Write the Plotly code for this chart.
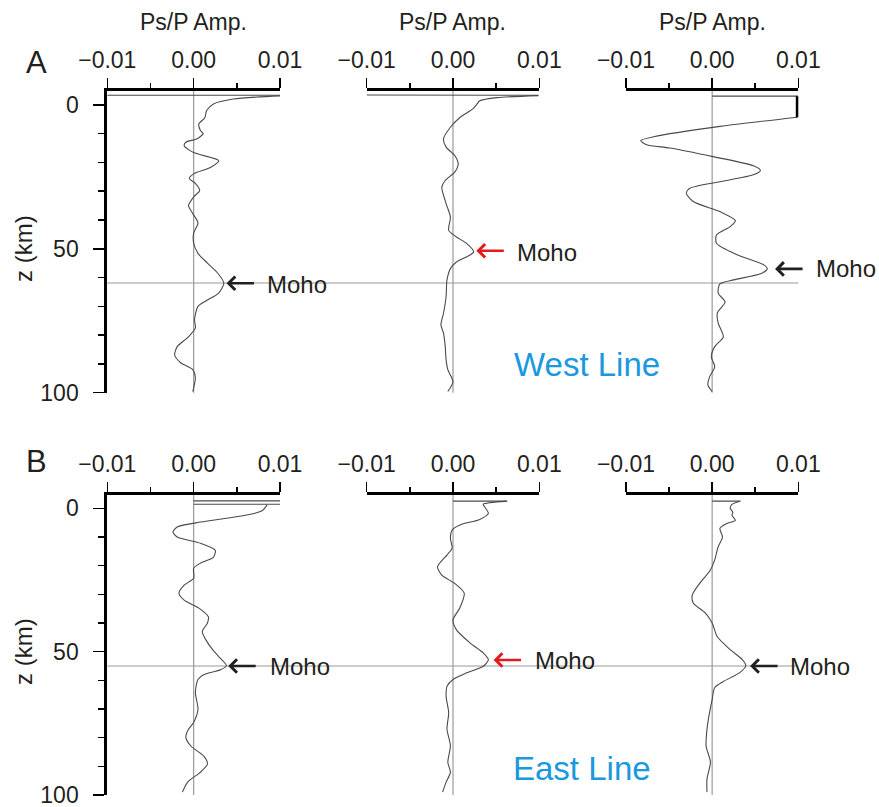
import plotly.graph_objects as go

W, H = 879, 807

# ---------------- data ----------------
# Row A (West Line), columns 1..3 ; Row B (East Line), columns 1..3
surf_amp_A1 = [-0.01, 0.01]
surf_dep_A1 = [-3.3, -3.3]
amp_A1 = [0.01, 0.0046, 0.0023, 0.0015, 0.0013, 0.0006, 0.0008, 0.0011, 0.0004, -0.0009, -0.0011, 0.0,
          0.0029, 0.0020, 0.0, -0.0005, 0.0002, 0.0007, 0.0, -0.0006, -0.0001, 0.0005, 0.0, 0.0,
          0.0005, 0.0016, 0.0028, 0.0035, 0.0029, 0.0016, 0.0005, 0.0001, 0.0002, -0.0006, -0.0019,
          -0.0022, -0.0015, -0.0001, 0.0002, -0.0001]
dep_A1 = [-3.1, -2.0, -0.3, 2.0, 4.5, 6.6, 9.0, 10.0, 11.8, 13.0, 14.2, 16.6,
          19.4, 21.7, 24.0, 25.6, 27.3, 29.8, 32.0, 35.0, 37.8, 41.0, 44.6, 48.0,
          51.6, 55.0, 58.5, 62.0, 65.4, 67.8, 70.0, 74.7, 77.5, 80.6, 84.0,
          86.9, 89.6, 92.0, 94.8, 99.6]

surf_amp_A2 = [-0.01, 0.0099]
surf_dep_A2 = [-3.4, -3.3]
amp_A2 = [0.0099, 0.0051, 0.0031, 0.0028, 0.0023, 0.0008, -0.0003, -0.0011, -0.0008, 0.0002, 0.0006,
          0.0002, -0.0009, -0.0013, -0.0008, -0.0003, -0.0005, 0.0004, 0.0016, 0.0024, 0.0016, 0.0004,
          -0.0003, -0.0007, -0.0008, -0.0011, -0.0014, -0.0011, -0.0009, -0.0008, -0.0006, 0.0, -0.0006]
dep_A2 = [-3.2, -2.5, -1.4, -0.3, 1.4, 4.4, 7.8, 11.8, 14.7, 17.6, 20.5,
          23.4, 26.3, 28.6, 34.3, 39.0, 43.6, 45.9, 48.2, 51.1, 52.8, 54.6,
          56.9, 60.9, 66.6, 72.4, 76.4, 79.3, 84.0, 88.6, 92.0, 96.2, 99.6]

surf_amp_A3 = [0.0, 0.01]
surf_dep_A3 = [-3.0, -3.0]
clip_amp_A3 = [0.01, 0.01]          # clipped (saturated) part of the trace
clip_dep_A3 = [-3.0, 4.3]
amp_A3 = [0.0099, 0.0009, -0.0068, -0.0083, -0.0076, -0.0049, 0.0001, 0.0048, 0.0056, 0.0048, 0.0009,
          -0.0026, -0.0030, -0.0022, 0.0009, 0.0027, 0.0021, 0.0005, 0.0005, 0.0029, 0.0060, 0.0064,
          0.0056, 0.0025, 0.0009, 0.0007, 0.0015, 0.0006, 0.0007, 0.0013, 0.0003, -0.0001, 0.0003,
          -0.0003, -0.0005, 0.0]
dep_A3 = [4.3, 7.5, 11.1, 12.4, 13.9, 15.0, 18.0, 21.2, 22.8, 24.3, 26.7,
          29.0, 30.7, 33.6, 37.1, 40.2, 42.3, 45.2, 48.1, 52.1, 55.6, 57.0,
          58.7, 60.8, 62.2, 65.4, 68.5, 72.3, 75.8, 80.6, 84.0, 87.5, 91.0,
          94.5, 97.3, 99.6]

surf_amp_B1 = [0.0, 0.01, None, 0.0, 0.01]
surf_dep_B1 = [-2.6, -2.6, None, -1.4, -1.4]
amp_B1 = [0.0085, 0.0080, 0.0070, 0.0046, 0.0008, -0.0019, -0.0024, -0.0019, 0.0008, 0.0025, 0.0023,
          0.0008, 0.0, 0.0, -0.0011, -0.0017, -0.0011, 0.0006, 0.0017, 0.0016, 0.0010, 0.0014, 0.0022,
          0.0029, 0.0038, 0.0031, 0.0012, 0.0005, 0.0002, 0.0005, 0.0, -0.0006, -0.0009, -0.0003,
          0.0012, 0.0016, 0.0008, -0.0007, -0.0013]
dep_B1 = [-1.2, 0.7, 1.8, 3.1, 4.8, 6.5, 8.3, 10.0, 12.2, 14.6, 17.0,
          19.1, 20.9, 24.4, 26.8, 29.6, 32.0, 34.8, 37.8, 40.0, 43.0, 45.8, 49.3,
          51.7, 54.9, 56.3, 58.0, 59.7, 64.2, 70.1, 74.7, 77.1, 79.9, 83.0,
          86.5, 89.2, 92.0, 95.5, 99.0]

surf_amp_B2 = [0.0, 0.0063]
surf_dep_B2 = [-2.5, -2.5]
amp_B2 = [0.0062, 0.0035, 0.0037, 0.0041, 0.0031, 0.0008, -0.0001, -0.0003, -0.0001, -0.0007, -0.0018,
          -0.0013, 0.0002, 0.0013, 0.0008, 0.0, 0.0004, 0.0020, 0.0035, 0.0041, 0.0035, 0.0016, 0.0,
          -0.0007, -0.0008, -0.0005, -0.0007, -0.0003, -0.0006, -0.0003, -0.0008, -0.0012]
dep_B2 = [-2.5, -1.4, -0.4, 1.8, 3.9, 5.8, 7.6, 10.5, 13.9, 16.3, 20.4,
          23.3, 26.2, 29.6, 34.7, 38.9, 42.4, 47.0, 50.4, 52.8, 55.1, 57.4, 59.7,
          62.1, 65.6, 71.3, 77.0, 82.8, 88.6, 92.1, 95.5, 99.0]

surf_amp_B3 = [0.0, 0.0033]
surf_dep_B3 = [-2.5, -2.5]
amp_B3 = [0.0032, 0.0023, 0.0021, 0.0024, 0.0023, 0.0027, 0.0017, 0.0009, 0.0012, 0.0007, 0.0003,
          -0.0002, -0.0014, -0.0023, -0.0022, -0.0008, 0.0, 0.0006, 0.0021, 0.0035, 0.0039, 0.0032,
          0.0013, 0.0003, 0.0, -0.0003, -0.0006, -0.0007, -0.0002, -0.0006, -0.0006]
dep_B3 = [-2.5, -1.4, 0.0, 1.4, 2.4, 4.2, 5.3, 7.0, 10.0, 13.4, 18.0,
          21.5, 26.0, 30.2, 33.0, 36.5, 40.0, 44.8, 49.3, 52.8, 54.9, 57.3,
          60.4, 62.5, 66.7, 71.2, 77.1, 83.0, 88.5, 94.4, 99.0]

# Moho picks: (amplitude of arrow tip, depth), arrow colour
moho_amp = [0.0038, 0.0027, 0.0073, 0.0040, 0.0047, 0.0044]
moho_dep = [62.0, 50.7, 57.0, 55.0, 52.9, 55.0]
moho_color = ["#231f20", "#e3191c", "#231f20", "#231f20", "#e3191c", "#231f20"]
moho_line_depth = [61.9, 55.0]   # row A, row B

x_tickvals = [-0.01, 0.0, 0.01]
x_ticktext = ["\u22120.01", "0.00", "0.01"]
x_minor = [-0.005, 0.005]
y_tickvals = [0, 50, 100]
y_ticktext = ["0", "50", "100"]
y_minor = [10, 20, 30, 40, 60, 70, 80, 90]

surf_amps = [surf_amp_A1, surf_amp_A2, surf_amp_A3, surf_amp_B1, surf_amp_B2, surf_amp_B3]
surf_deps = [surf_dep_A1, surf_dep_A2, surf_dep_A3, surf_dep_B1, surf_dep_B2, surf_dep_B3]
amps = [amp_A1, amp_A2, amp_A3, amp_B1, amp_B2, amp_B3]
deps = [dep_A1, dep_A2, dep_A3, dep_B1, dep_B2, dep_B3]

# ---------------- layout geometry (pixels -> paper) ----------------
def px(x):
    return x / W

def py(y):
    return 1 - y / H

col_dom = [(px(107.3), px(280.0)), (px(366.7), px(539.3)), (px(626.0), px(798.3))]
row_dom = [(py(392.7), py(90.7)), (py(795.0), py(494.7))]
row_range = [[100, -4.9], [100, -4.75]]

FONT = "Arial, Liberation Sans, sans-serif"
TRACE_COL = "#4a4a4a"
GRID_COL = "#9a9a9a"
TEXT_COL = "#231f20"

fig = go.Figure()
layout = dict(
    width=W, height=H, autosize=False,
    margin=dict(l=0, r=0, t=0, b=0, pad=0),
    paper_bgcolor="white", plot_bgcolor="white",
    showlegend=False,
    font=dict(family=FONT, color=TEXT_COL),
)

shapes = []
annotations = []

for i in range(6):
    r, c = divmod(i, 3)
    n = i + 1
    xa = "xaxis" if n == 1 else f"xaxis{n}"
    ya = "yaxis" if n == 1 else f"yaxis{n}"
    xr = "x" if n == 1 else f"x{n}"
    yr = "y" if n == 1 else f"y{n}"
    layout[xa] = dict(
        domain=list(col_dom[c]), anchor=yr, side="top",
        range=[-0.01, 0.01], showgrid=False, zeroline=False, automargin=False,
        showline=True, linewidth=3, linecolor="black",
        ticks="outside", ticklen=10, tickwidth=1.5, tickcolor="black",
        tickvals=x_tickvals, ticktext=x_ticktext,
        tickfont=dict(size=23, family=FONT, color=TEXT_COL),
        ticklabelstandoff=1, ticklabeloverflow="allow",
        minor=dict(tickvals=x_minor, ticks="outside", ticklen=5, tickwidth=1.5,
                   tickcolor="black", showgrid=False),
        fixedrange=True,
    )
    ydict = dict(
        domain=list(row_dom[r]), anchor=xr, range=row_range[r],
        showgrid=False, zeroline=False, fixedrange=True, automargin=False,
    )
    if c == 0:
        ydict.update(
            showline=True, linewidth=3, linecolor="black",
            ticks="outside", ticklen=11, tickwidth=1.5, tickcolor="black",
            tickvals=y_tickvals, ticktext=y_ticktext,
            tickfont=dict(size=23, family=FONT, color=TEXT_COL),
            ticklabelstandoff=10, ticklabeloverflow="allow",
            minor=dict(tickvals=y_minor, ticks="outside", ticklen=6, tickwidth=1.5,
                       tickcolor="black", showgrid=False),
        )
    else:
        ydict.update(visible=False)
    layout[ya] = ydict

    # zero line
    shapes.append(dict(type="line", xref=xr, yref=f"{yr} domain", x0=0, x1=0, y0=0, y1=1,
                       line=dict(color=GRID_COL, width=1.2), layer="below"))

    # traces
    fig.add_trace(go.Scatter(x=surf_amps[i], y=surf_deps[i], xaxis=xr, yaxis=yr, mode="lines",
                             line=dict(color=TRACE_COL, width=1.1), connectgaps=False,
                             hoverinfo="skip"))
    fig.add_trace(go.Scatter(x=amps[i], y=deps[i], xaxis=xr, yaxis=yr, mode="lines",
                             line=dict(color=TRACE_COL, width=1.1, shape="spline", smoothing=0.7),
                             hoverinfo="skip"))

    # Moho arrow
    annotations.append(dict(
        x=moho_amp[i], y=moho_dep[i], xref=xr, yref=yr, text="",
        showarrow=True, ax=29, ay=0, axref="pixel", ayref="pixel",
        arrowhead=4, arrowsize=1.0, arrowwidth=2.6, arrowcolor=moho_color[i],
    ))

# saturated (clipped) part of the West-Line column-3 trace
fig.add_trace(go.Scatter(x=clip_amp_A3, y=clip_dep_A3, xaxis="x3", yaxis="y3", mode="lines",
                         line=dict(color="black", width=5), hoverinfo="skip"))

# Moho horizontal lines across each row
for r in range(2):
    yr = "y" if r == 0 else "y4"
    shapes.append(dict(type="line", xref="paper", yref=yr, x0=px(107.3), x1=px(798.3),
                       y0=moho_line_depth[r], y1=moho_line_depth[r],
                       line=dict(color=GRID_COL, width=1.2), layer="below"))

# Moho labels
moho_text_pos = [(265, 284), (515, 252), (814, 268), (268, 666), (533, 660), (788, 666)]
for (tx, ty) in moho_text_pos:
    annotations.append(dict(text="Moho", x=px(tx), y=py(ty), xref="paper", yref="paper",
                            xanchor="left", yanchor="middle", showarrow=False,
                            font=dict(size=24, family=FONT, color=TEXT_COL)))

# Column headers
for cx in [193.3, 452.7, 712.0]:
    annotations.append(dict(text="Ps/P Amp.", x=px(cx), y=py(22), xref="paper", yref="paper",
                            xanchor="center", yanchor="middle", showarrow=False,
                            font=dict(size=23, family=FONT, color=TEXT_COL)))

# Panel letters
annotations.append(dict(text="A", x=px(36.5), y=py(62.5), xref="paper", yref="paper",
                        xanchor="center", yanchor="middle", showarrow=False,
                        font=dict(size=31, family=FONT, color=TEXT_COL)))
annotations.append(dict(text="B", x=px(36.5), y=py(461.5), xref="paper", yref="paper",
                        xanchor="center", yanchor="middle", showarrow=False,
                        font=dict(size=31, family=FONT, color=TEXT_COL)))

# y axis titles
for ty in [249, 652]:
    annotations.append(dict(text="z (km)", x=px(23), y=py(ty), xref="paper", yref="paper",
                            xanchor="center", yanchor="middle", textangle=-90, showarrow=False,
                            font=dict(size=24, family=FONT, color=TEXT_COL)))

# Line labels
annotations.append(dict(text="West Line", x=px(586.5), y=py(364), xref="paper", yref="paper",
                        xanchor="center", yanchor="middle", showarrow=False,
                        font=dict(size=33, family=FONT, color="#1a98e0")))
annotations.append(dict(text="East Line", x=px(581.5), y=py(768), xref="paper", yref="paper",
                        xanchor="center", yanchor="middle", showarrow=False,
                        font=dict(size=33, family=FONT, color="#1a98e0")))

layout["shapes"] = shapes
layout["annotations"] = annotations
fig.update_layout(**layout)

fig.write_html(
    "out.html",
    config={"displayModeBar": False, "staticPlot": True},
    post_script="document.body.style.margin='0px';document.body.style.padding='0px';"
                "document.body.style.overflow='hidden';",
)
